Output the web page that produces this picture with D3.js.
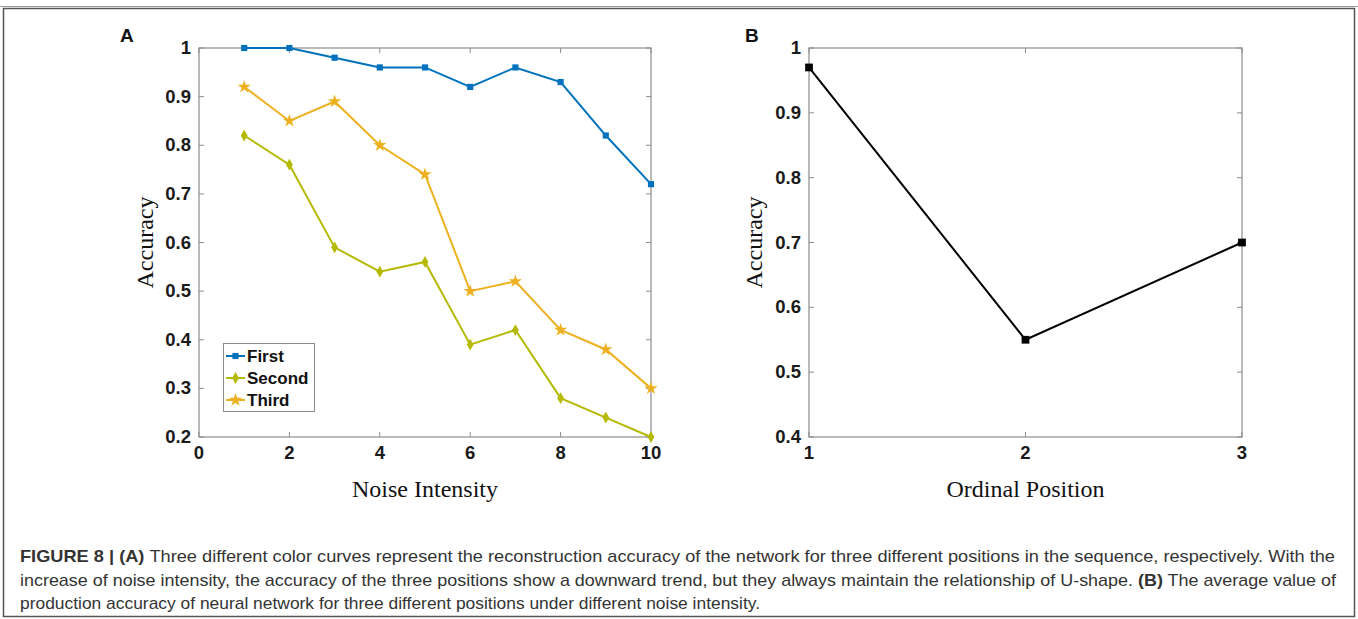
<!DOCTYPE html>
<html>
<head>
<meta charset="utf-8">
<script src="https://cdn.jsdelivr.net/npm/d3@7"></script>
<style>
  body { margin: 0; background: #fff; }
  svg { display: block; }
</style>
</head>
<body>
<div class="chart-box"></div>
<script>
// panel A data
const noise = [1, 2, 3, 4, 5, 6, 7, 8, 9, 10];
const firstAcc  = [1.00, 1.00, 0.98, 0.96, 0.96, 0.92, 0.96, 0.93, 0.82, 0.72];
const secondAcc = [0.82, 0.76, 0.59, 0.54, 0.56, 0.39, 0.42, 0.28, 0.24, 0.20];
const thirdAcc  = [0.92, 0.85, 0.89, 0.80, 0.74, 0.50, 0.52, 0.42, 0.38, 0.30];
const seriesNames = ["First", "Second", "Third"];
const xTicksA = [0, 2, 4, 6, 8, 10];
const yTicksA = [0.2, 0.3, 0.4, 0.5, 0.6, 0.7, 0.8, 0.9, 1];

// panel B data
const positions = [1, 2, 3];
const meanAcc = [0.97, 0.55, 0.70];
const yTicksB = [0.4, 0.5, 0.6, 0.7, 0.8, 0.9, 1];

const captionLines = [
  [{b: true, t: "FIGURE 8 | (A) "}, {b: false, t: "Three different color curves represent the reconstruction accuracy of the network for three different positions in the sequence, respectively. With the"}],
  [{b: false, t: "increase of noise intensity, the accuracy of the three positions show a downward trend, but they always maintain the relationship of U-shape. "}, {b: true, t: "(B)"}, {b: false, t: " The average value of"}],
  [{b: false, t: "production accuracy of neural network for three different positions under different noise intensity."}]
];

const W = 1358, H = 619;
const colors = ["#0072bd", "#b5b900", "#edb120"];
const shapes = [d3.symbolSquare, d3.symbolDiamond, d3.symbolStar];
const shapeSize = [38, 40, 55];

const svg = d3.select(".chart-box").append("svg")
  .attr("width", W)
  .attr("height", H);

// outer frame
svg.append("line")
  .attr("x1", 0).attr("x2", W).attr("y1", 6.5).attr("y2", 6.5)
  .attr("stroke", "#999").attr("stroke-width", 1);
svg.append("rect")
  .attr("x", 3.5).attr("y", 8.5)
  .attr("width", 1351).attr("height", 608)
  .attr("fill", "none")
  .attr("stroke", "#555")
  .attr("stroke-width", 1.5);

const tickFont = "Liberation Sans, Arial, sans-serif";
const serifFont = "Liberation Serif, Times New Roman, serif";
const capFont = "Liberation Sans Narrow, Arial Narrow, Liberation Sans, sans-serif";

function drawAxes(g, x, y, xTicks, yTicks, fmtY) {
  const [x0, x1] = x.range();
  const [y0, y1] = y.range();
  const tl = 5;

  // box
  g.append("rect")
    .attr("x", x0).attr("y", y1)
    .attr("width", x1 - x0).attr("height", y0 - y1)
    .attr("fill", "none")
    .attr("stroke", "#8c8c8c")
    .attr("stroke-width", 1.2);

  const ticks = g.append("g").attr("stroke", "#8c8c8c").attr("stroke-width", 1);
  xTicks.forEach(t => {
    ticks.append("line").attr("x1", x(t)).attr("x2", x(t)).attr("y1", y0).attr("y2", y0 - tl);
    ticks.append("line").attr("x1", x(t)).attr("x2", x(t)).attr("y1", y1).attr("y2", y1 + tl);
  });
  yTicks.forEach(t => {
    ticks.append("line").attr("x1", x0).attr("x2", x0 + tl).attr("y1", y(t)).attr("y2", y(t));
    ticks.append("line").attr("x1", x1).attr("x2", x1 - tl).attr("y1", y(t)).attr("y2", y(t));
  });

  g.selectAll(".xlab").data(xTicks).enter().append("text")
    .attr("x", d => x(d))
    .attr("y", y0 + 22)
    .attr("text-anchor", "middle")
    .attr("font-family", tickFont)
    .attr("font-weight", "bold")
    .attr("font-size", 18.5)
    .attr("fill", "#1a1a1a")
    .text(d => d);

  g.selectAll(".ylab").data(yTicks).enter().append("text")
    .attr("x", x0 - 8)
    .attr("y", d => y(d) + 6)
    .attr("text-anchor", "end")
    .attr("font-family", tickFont)
    .attr("font-weight", "bold")
    .attr("font-size", 18.5)
    .attr("fill", "#1a1a1a")
    .text(fmtY);
}

function axisTitles(g, x, y, xTitle, yTitle, yTitleX) {
  const [x0, x1] = x.range();
  const [y0, y1] = y.range();
  g.append("text")
    .attr("x", (x0 + x1) / 2)
    .attr("y", y0 + 60)
    .attr("text-anchor", "middle")
    .attr("font-family", serifFont)
    .attr("font-size", 24)
    .attr("fill", "#111")
    .text(xTitle);
  g.append("text")
    .attr("transform", "translate(" + yTitleX + "," + (y0 + y1) / 2 + ") rotate(-90)")
    .attr("text-anchor", "middle")
    .attr("font-family", serifFont)
    .attr("font-size", 24)
    .attr("fill", "#111")
    .text(yTitle);
}

const fmtY = d => d === 1 ? "1" : d3.format(".1f")(d);

// ---- Panel A ----
const gA = svg.append("g");
const xA = d3.scaleLinear().domain([0, 10]).range([199, 651]);
const yA = d3.scaleLinear().domain([0.2, 1]).range([437, 48]);
drawAxes(gA, xA, yA, xTicksA, yTicksA, fmtY);
axisTitles(gA, xA, yA, "Noise Intensity", "Accuracy", 153);

gA.append("text")
  .attr("x", 120).attr("y", 42)
  .attr("font-family", tickFont).attr("font-weight", "bold")
  .attr("font-size", 19).attr("fill", "#111")
  .text("A");

const seriesA = [firstAcc, secondAcc, thirdAcc];
const lineA = d3.line().x((d, i) => xA(noise[i])).y(d => yA(d));

seriesA.forEach((vals, s) => {
  gA.append("path")
    .attr("d", lineA(vals))
    .attr("fill", "none")
    .attr("stroke", colors[s])
    .attr("stroke-width", 2);
  gA.selectAll(".m" + s).data(vals).enter().append("path")
    .attr("transform", (d, i) => "translate(" + xA(noise[i]) + "," + yA(d) + ")")
    .attr("d", d3.symbol().type(shapes[s]).size(shapeSize[s]))
    .attr("fill", colors[s]);
});

// legend
const leg = gA.append("g").attr("transform", "translate(223,343)");
leg.append("rect")
  .attr("x", 0.5).attr("y", 0.5)
  .attr("width", 91).attr("height", 68)
  .attr("fill", "#fff")
  .attr("stroke", "#8c8c8c");
seriesNames.forEach((name, s) => {
  const yy = 13 + s * 22;
  leg.append("line")
    .attr("x1", 3).attr("x2", 22).attr("y1", yy).attr("y2", yy)
    .attr("stroke", colors[s]).attr("stroke-width", 2);
  leg.append("path")
    .attr("transform", "translate(12.5," + yy + ")")
    .attr("d", d3.symbol().type(shapes[s]).size(shapeSize[s]))
    .attr("fill", colors[s]);
  leg.append("text")
    .attr("x", 24).attr("y", yy + 6)
    .attr("font-family", tickFont).attr("font-weight", "bold")
    .attr("font-size", 17).attr("fill", "#111")
    .text(name);
});

// ---- Panel B ----
const gB = svg.append("g");
const xB = d3.scaleLinear().domain([1, 3]).range([809, 1242]);
const yB = d3.scaleLinear().domain([0.4, 1]).range([437, 48]);
drawAxes(gB, xB, yB, positions, yTicksB, fmtY);
axisTitles(gB, xB, yB, "Ordinal Position", "Accuracy", 762);

gB.append("text")
  .attr("x", 745).attr("y", 42)
  .attr("font-family", tickFont).attr("font-weight", "bold")
  .attr("font-size", 19).attr("fill", "#111")
  .text("B");

const lineB = d3.line().x((d, i) => xB(positions[i])).y(d => yB(d));
gB.append("path")
  .attr("d", lineB(meanAcc))
  .attr("fill", "none")
  .attr("stroke", "#000")
  .attr("stroke-width", 2);
gB.selectAll(".mb").data(meanAcc).enter().append("path")
  .attr("transform", (d, i) => "translate(" + xB(positions[i]) + "," + yB(d) + ")")
  .attr("d", d3.symbol().type(d3.symbolSquare).size(60))
  .attr("fill", "#000");

// ---- caption ----
const capW = [1315, 1316, 740];
captionLines.forEach((parts, li) => {
  const t = svg.append("text")
    .attr("x", 20)
    .attr("y", 562 + li * 23.5)
    .attr("font-family", capFont)
    .attr("font-size", 17)
    .attr("fill", "#333")
    .attr("textLength", capW[li])
    .attr("lengthAdjust", "spacingAndGlyphs");
  parts.forEach(p => {
    t.append("tspan")
      .attr("font-weight", p.b ? "bold" : "normal")
      .text(p.t);
  });
});
</script>
</body>
</html>
